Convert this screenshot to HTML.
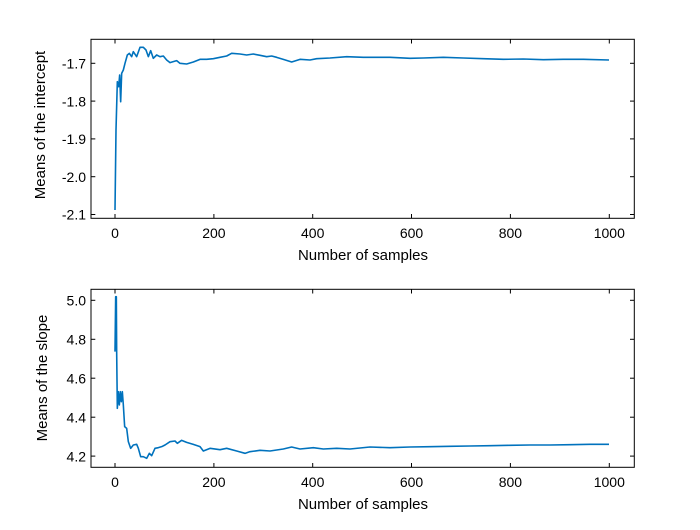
<!DOCTYPE html>
<html><head><meta charset="utf-8"><style>
html,body{margin:0;padding:0;background:#fff;}
svg text{font-family:"Liberation Sans",sans-serif;fill:#000;}
</style></head><body>
<svg width="700" height="525" viewBox="0 0 700 525" xmlns="http://www.w3.org/2000/svg">
<rect width="700" height="525" fill="#fff"/>
<!-- TOP AXES -->
<rect x="91" y="39.3" width="543.3" height="179" fill="none" stroke="#000" stroke-width="1"/>
<g stroke="#000" stroke-width="1">
<line x1="115" y1="218.3" x2="115" y2="214"/><line x1="213.9" y1="218.3" x2="213.9" y2="214"/><line x1="312.7" y1="218.3" x2="312.7" y2="214"/><line x1="411.5" y1="218.3" x2="411.5" y2="214"/><line x1="510.4" y1="218.3" x2="510.4" y2="214"/><line x1="609.3" y1="218.3" x2="609.3" y2="214"/>
<line x1="115" y1="39.3" x2="115" y2="43.5"/><line x1="213.9" y1="39.3" x2="213.9" y2="43.5"/><line x1="312.7" y1="39.3" x2="312.7" y2="43.5"/><line x1="411.5" y1="39.3" x2="411.5" y2="43.5"/><line x1="510.4" y1="39.3" x2="510.4" y2="43.5"/><line x1="609.3" y1="39.3" x2="609.3" y2="43.5"/>
<line x1="91" y1="63.3" x2="95.3" y2="63.3"/><line x1="91" y1="101.1" x2="95.3" y2="101.1"/><line x1="91" y1="138.9" x2="95.3" y2="138.9"/><line x1="91" y1="176.7" x2="95.3" y2="176.7"/><line x1="91" y1="214.5" x2="95.3" y2="214.5"/>
<line x1="634.3" y1="63.3" x2="630" y2="63.3"/><line x1="634.3" y1="101.1" x2="630" y2="101.1"/><line x1="634.3" y1="138.9" x2="630" y2="138.9"/><line x1="634.3" y1="176.7" x2="630" y2="176.7"/><line x1="634.3" y1="214.5" x2="630" y2="214.5"/>
</g>
<g font-size="14" text-anchor="end">
<text x="86" y="68.5">-1.7</text><text x="86" y="106.3">-1.8</text><text x="86" y="144.1">-1.9</text><text x="86" y="181.9">-2.0</text><text x="86" y="219.7">-2.1</text>
</g>
<g font-size="14" text-anchor="middle">
<text x="115" y="238">0</text><text x="213.9" y="238">200</text><text x="312.7" y="238">400</text><text x="411.5" y="238">600</text><text x="510.4" y="238">800</text><text x="609.3" y="238">1000</text>
<text x="363" y="260" font-size="15">Number of samples</text>
<text transform="translate(45,125) rotate(-90)" font-size="15">Means of the intercept</text>
</g>
<g transform="translate(90,30) scale(0.33333)">
<polyline fill="none" stroke="#0072bd" stroke-width="1.6" vector-effect="non-scaling-stroke" stroke-linejoin="round"
points="75,540 78,300 82,155 86,170 89,135 92,215 95,130 100,120 105,100 112,75 118,70 125,80 130,65 140,80 150,52 160,52 168,60 175,80 182,62 190,85 200,75 210,80 220,78 230,90 240,98 260,92 270,100 290,102 310,96 330,88 350,88 370,86 390,82 410,78 425,70 450,72 470,75 490,72 510,76 530,80 545,78 560,82 580,88 605,96 630,88 660,90 680,86 720,84 770,80 820,82 900,82 960,85 1000,84 1060,82 1120,84 1180,86 1240,88 1300,87 1360,89 1420,88 1480,88 1557,90"/>
</g>
<!-- BOTTOM AXES -->
<rect x="91" y="289.3" width="543.3" height="178" fill="none" stroke="#000" stroke-width="1"/>
<g stroke="#000" stroke-width="1">
<line x1="115" y1="467.3" x2="115" y2="463"/><line x1="213.9" y1="467.3" x2="213.9" y2="463"/><line x1="312.7" y1="467.3" x2="312.7" y2="463"/><line x1="411.5" y1="467.3" x2="411.5" y2="463"/><line x1="510.4" y1="467.3" x2="510.4" y2="463"/><line x1="609.3" y1="467.3" x2="609.3" y2="463"/>
<line x1="115" y1="289.3" x2="115" y2="293.5"/><line x1="213.9" y1="289.3" x2="213.9" y2="293.5"/><line x1="312.7" y1="289.3" x2="312.7" y2="293.5"/><line x1="411.5" y1="289.3" x2="411.5" y2="293.5"/><line x1="510.4" y1="289.3" x2="510.4" y2="293.5"/><line x1="609.3" y1="289.3" x2="609.3" y2="293.5"/>
<line x1="91" y1="300.3" x2="95.3" y2="300.3"/><line x1="91" y1="339.3" x2="95.3" y2="339.3"/><line x1="91" y1="378.2" x2="95.3" y2="378.2"/><line x1="91" y1="417.2" x2="95.3" y2="417.2"/><line x1="91" y1="456.1" x2="95.3" y2="456.1"/>
<line x1="634.3" y1="300.3" x2="630" y2="300.3"/><line x1="634.3" y1="339.3" x2="630" y2="339.3"/><line x1="634.3" y1="378.2" x2="630" y2="378.2"/><line x1="634.3" y1="417.2" x2="630" y2="417.2"/><line x1="634.3" y1="456.1" x2="630" y2="456.1"/>
</g>
<g font-size="14" text-anchor="end">
<text x="86" y="305.5">5.0</text><text x="86" y="344.5">4.8</text><text x="86" y="383.4">4.6</text><text x="86" y="422.4">4.4</text><text x="86" y="461.3">4.2</text>
</g>
<g font-size="14" text-anchor="middle">
<text x="115" y="487">0</text><text x="213.9" y="487">200</text><text x="312.7" y="487">400</text><text x="411.5" y="487">600</text><text x="510.4" y="487">800</text><text x="609.3" y="487">1000</text>
<text x="363" y="509" font-size="15">Number of samples</text>
<text transform="translate(47,378) rotate(-90)" font-size="15">Means of the slope</text>
</g>
<g transform="translate(90,285) scale(0.33333)">
<polyline fill="none" stroke="#0072bd" stroke-width="1.6" vector-effect="non-scaling-stroke" stroke-linejoin="round"
points="75,200 77,35 79,35 80,200 82,370 85,320 88,360 91,320 94,350 97,320 100,360 104,425 110,430 115,470 122,490 130,480 140,478 145,490 152,515 160,515 170,520 178,505 185,512 195,490 205,488 215,485 225,480 240,470 255,468 262,475 275,466 290,472 310,478 330,485 340,498 360,490 390,494 410,490 440,498 465,505 480,500 510,496 540,498 560,495 580,492 605,486 630,492 670,488 700,492 740,490 780,492 840,486 900,488 960,486 1020,485 1080,484 1140,483 1200,482 1260,481 1320,480 1380,480 1440,479 1500,478 1557,478"/>
</g>
</svg>
</body></html>
